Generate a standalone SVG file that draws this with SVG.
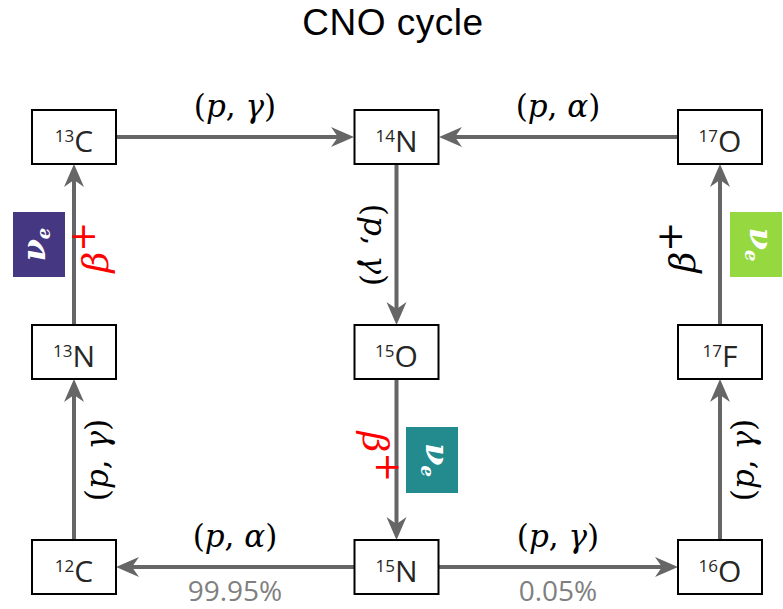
<svg xmlns="http://www.w3.org/2000/svg" width="783" height="609" viewBox="0 0 783 609">
<defs>
<style>
.node rect{fill:#fff;stroke:#000;stroke-width:2}
.nt{font-family:"Open Sans","Noto Sans","Liberation Sans",sans-serif;font-size:30px;fill:#262626;text-anchor:middle}
.nt .sup{font-size:17px}
.conn line{stroke:#666;stroke-width:4;marker-end:url(#ah)}
.math{font-family:"DejaVu Serif","Liberation Serif",serif;font-size:31px;fill:#000;text-anchor:middle}
.math .i{font-style:italic}
.beta{font-family:"DejaVu Serif","Liberation Serif",serif;font-size:36px;font-style:italic;text-anchor:middle}
.nu{font-family:"DejaVu Serif","Liberation Serif",serif;font-size:32px;font-style:italic;font-weight:bold;fill:#fff;text-anchor:middle}
.pct{font-family:"Open Sans","Noto Sans","Liberation Sans",sans-serif;font-size:28px;fill:#7f7f7f;text-anchor:middle}
</style>
<marker id="ah" markerUnits="userSpaceOnUse" markerWidth="24" markerHeight="22" viewBox="0 0 24 22" refX="7" refY="11" orient="auto">
<path d="M0,1 L23,11 L0,21 L7,11 Z" fill="#666"/>
</marker>
</defs>
<rect width="783" height="609" fill="#fff"/>
<text x="393" y="35" font-family="'Liberation Sans',Arial,sans-serif" font-size="37" letter-spacing="0.5" text-anchor="middle" fill="#000">CNO cycle</text>

<g id="connectors" class="conn">
<line x1="116" y1="137" x2="338" y2="137"/>
<line x1="678" y1="137" x2="455" y2="137"/>
<line x1="396.5" y1="164" x2="396.5" y2="309"/>
<line x1="396.5" y1="379" x2="396.5" y2="524"/>
<line x1="74" y1="325" x2="74" y2="180"/>
<line x1="74" y1="540" x2="74" y2="395"/>
<line x1="720" y1="325" x2="720" y2="180"/>
<line x1="720" y1="540" x2="720" y2="395"/>
<line x1="355" y1="567" x2="132" y2="567"/>
<line x1="439" y1="567" x2="662" y2="567"/>
</g>

<g id="labels">
<text class="math" x="235" y="117">(<tspan class="i">p</tspan>, <tspan class="i">γ</tspan>)</text>
<text class="math" x="558" y="117">(<tspan class="i">p</tspan>, <tspan class="i">α</tspan>)</text>
<text class="math" x="235" y="547">(<tspan class="i">p</tspan>, <tspan class="i">α</tspan>)</text>
<text class="math" x="558" y="547">(<tspan class="i">p</tspan>, <tspan class="i">γ</tspan>)</text>
<text class="math" transform="translate(371.5,245) rotate(90)" x="0" y="8">(<tspan class="i">p</tspan>, <tspan class="i">γ</tspan>)</text>
<text class="math" transform="translate(99.5,460) rotate(-90)" x="0" y="8">(<tspan class="i">p</tspan>, <tspan class="i">γ</tspan>)</text>
<text class="math" transform="translate(745.5,460) rotate(-90)" x="0" y="8">(<tspan class="i">p</tspan>, <tspan class="i">γ</tspan>)</text>

<text class="beta" fill="#ff0000" transform="translate(99,247) rotate(-90)" x="0" y="9">β<tspan font-style="normal" dy="-13">+</tspan></text>
<text class="beta" fill="#000" transform="translate(686,247) rotate(-90)" x="0" y="9">β<tspan font-style="normal" dy="-13">+</tspan></text>
<text class="beta" fill="#ff0000" transform="translate(372,457) rotate(90)" x="0" y="9">β<tspan font-style="normal" dy="-13">+</tspan></text>

<text class="pct" x="235" y="601">99.95%</text>
<text class="pct" x="558" y="601">0.05%</text>
</g>

<g id="nu-left">
<rect x="13" y="212" width="52" height="65" fill="#453781"/>
<text class="nu" transform="translate(39,244.5) rotate(-90)" x="0" y="6">ν<tspan font-size="18" dy="5">e</tspan></text>
</g>
<g id="nu-mid">
<rect x="406" y="427" width="52" height="66" fill="#238A8D"/>
<text class="nu" transform="translate(432,460) rotate(90)" x="0" y="6">ν<tspan font-size="18" dy="5">e</tspan></text>
</g>
<g id="nu-right">
<rect x="730" y="212" width="52" height="65" fill="#95D840"/>
<text class="nu" transform="translate(756,244.5) rotate(90)" x="0" y="6">ν<tspan font-size="18" dy="5">e</tspan></text>
</g>

<g id="n-13C" class="node"><rect x="32" y="110" width="84" height="54"/><text class="nt" x="74" y="152"><tspan class="sup" dy="-10">13</tspan><tspan dy="10">C</tspan></text></g>
<g id="n-14N" class="node"><rect x="354.5" y="110" width="84" height="54"/><text class="nt" x="396.5" y="152"><tspan class="sup" dy="-10">14</tspan><tspan dy="10">N</tspan></text></g>
<g id="n-17O" class="node"><rect x="678" y="110" width="84" height="54"/><text class="nt" x="720" y="152"><tspan class="sup" dy="-10">17</tspan><tspan dy="10">O</tspan></text></g>
<g id="n-13N" class="node"><rect x="32" y="325" width="84" height="54"/><text class="nt" x="74" y="367"><tspan class="sup" dy="-10">13</tspan><tspan dy="10">N</tspan></text></g>
<g id="n-15O" class="node"><rect x="354.5" y="325" width="84" height="54"/><text class="nt" x="396.5" y="367"><tspan class="sup" dy="-10">15</tspan><tspan dy="10">O</tspan></text></g>
<g id="n-17F" class="node"><rect x="678" y="325" width="84" height="54"/><text class="nt" x="720" y="367"><tspan class="sup" dy="-10">17</tspan><tspan dy="10">F</tspan></text></g>
<g id="n-12C" class="node"><rect x="32" y="540" width="84" height="54"/><text class="nt" x="74" y="582"><tspan class="sup" dy="-10">12</tspan><tspan dy="10">C</tspan></text></g>
<g id="n-15N" class="node"><rect x="354.5" y="540" width="84" height="54"/><text class="nt" x="396.5" y="582"><tspan class="sup" dy="-10">15</tspan><tspan dy="10">N</tspan></text></g>
<g id="n-16O" class="node"><rect x="678" y="540" width="84" height="54"/><text class="nt" x="720" y="582"><tspan class="sup" dy="-10">16</tspan><tspan dy="10">O</tspan></text></g>
</svg>
